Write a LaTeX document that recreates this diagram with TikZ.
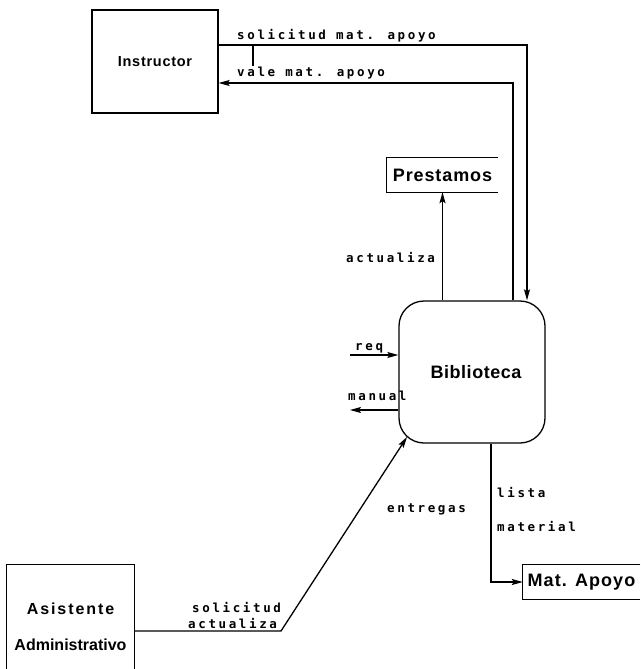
\documentclass[tikz,border=0pt]{standalone}
\usepackage{fontspec}
\setmainfont{Liberation Sans}
\newfontfamily\flowfont[LetterSpace=21]{DejaVu Sans Mono Bold}
\usetikzlibrary{arrows.meta}
\tikzset{
  flow/.style={line width=1.3pt,-{Stealth[length=11pt,width=6pt,inset=2pt]}},
  plain/.style={line width=1.3pt},
  lbl/.style={inner sep=0pt,anchor=base west,font=\flowfont\fontsize{12.5}{13}\selectfont},
  boxlbl/.style={inner sep=0pt,font=\bfseries\fontsize{18}{20}\selectfont}
}
\begin{document}
\begin{tikzpicture}[x=1pt,y=-1pt]
\useasboundingbox (0,0) rectangle (640,669);
% nodes
\node[draw,plain,minimum width=126pt,minimum height=103pt,inner sep=0pt,
      font=\bfseries\fontsize{14.5}{16}\selectfont] (instr) at (155,61.5)
      {\addfontfeature{LetterSpace=5}Instructor};
\node[draw,plain,rounded corners=25pt,minimum width=146pt,minimum height=142pt,inner sep=0pt,
      font=\bfseries\fontsize{18}{20}\selectfont] (bib) at (472,372)
      {\hspace*{8pt}\addfontfeature{LetterSpace=3}Biblioteca};
\node[minimum width=111pt,minimum height=34pt,inner sep=0pt,boxlbl] (prest) at (442.5,175)
      {\addfontfeature{LetterSpace=5}Prestamos};
\draw[plain] (prest.north east) -- (prest.north west) -- (prest.south west) -- (prest.south east);
\node[minimum width=117pt,minimum height=35pt,inner sep=0pt,boxlbl] (mat) at (581.5,582)
      {\addfontfeature{LetterSpace=6}Mat. Apoyo};
\draw[plain] (mat.north east) -- (mat.north west) -- (mat.south west) -- (mat.south east);
\node[minimum width=127pt,minimum height=124pt,inner sep=0pt,align=center,
      font=\bfseries\fontsize{16}{36}\selectfont] (asist) at (70.5,627)
      {{\addfontfeature{LetterSpace=12}Asistente}\\Administrativo};
\draw[plain] (asist.south west) -- (asist.north west) -- (asist.north east) -- (asist.south east);
% free ends
\coordinate (reqin) at (350,355);
\coordinate (manout) at (350,410);
\coordinate (bend) at (281,631);
\coordinate (bibsw) at (407,437);
% connectors
\draw[flow] ([yshift=16.5pt]instr.east) -| ([xshift=55pt]bib.north);
\draw[flow] ([xshift=41pt]bib.north) |- ([yshift=-21.5pt]instr.east);
\draw[plain] (253,45) -- (253,66);
\draw[flow] (bib.north -| prest.south) -- (prest.south);
\draw[flow] (reqin) -- (reqin -| bib.west);
\draw[flow] (manout -| bib.west) -- (manout);
\draw[flow] ([xshift=19pt]bib.south) |- (mat.west);
\draw[flow] ([yshift=-4pt]asist.east) -- (bend) -- (bibsw);
% labels
\node[lbl] (l1) at (237,40) {solicitud mat. apoyo};
\node[lbl] (l2) at (237,77) {vale mat. apoyo};
\node[lbl] (l3) at (346,262) {actualiza};
\node[lbl] (l4) at (355,350) {req};
\node[lbl] (l5) at (348,400) {manual};
\node[lbl] (l6) at (497,497) {lista};
\node[lbl] (l7) at (497,531) {material};
\node[lbl] (l8) at (387,512) {entregas};
\node[lbl] (l9) at (192,612) {solicitud};
\node[lbl] (l10) at (188,628) {actualiza};
\end{tikzpicture}
\end{document}
